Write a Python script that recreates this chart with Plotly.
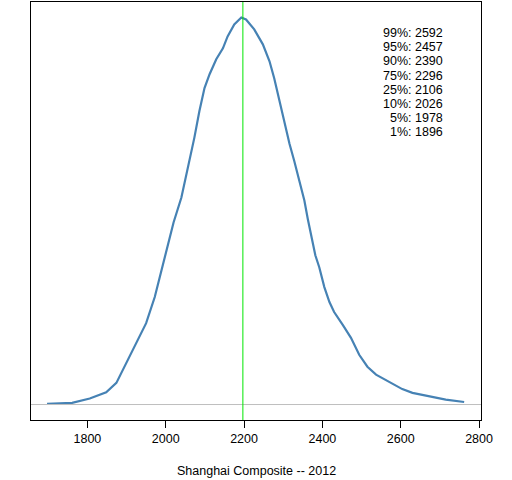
import plotly.graph_objects as go

# kernel density of the 2012 Shanghai Composite
index_level = [1697, 1761, 1806, 1848, 1874, 1899, 1925, 1950, 1972, 1989,
               2005, 2020, 2040, 2061, 2073, 2086, 2099, 2112, 2129, 2146,
               2158, 2175, 2193, 2205, 2226, 2248, 2265, 2277, 2290, 2303,
               2316, 2328, 2341, 2354, 2363, 2374, 2382, 2392, 2405, 2418,
               2430, 2452, 2473, 2494, 2515, 2537, 2571, 2604, 2630, 2673,
               2715, 2762]
density = [0.0000056, 0.0000136, 0.000048, 0.0000984, 0.000174, 0.000334,
           0.000494, 0.000654, 0.000864, 0.00108, 0.001296, 0.001464,
           0.001664, 0.00196, 0.002144, 0.00236, 0.002544, 0.002656,
           0.002776, 0.002864, 0.00296, 0.003056, 0.003112, 0.003096,
           0.003016, 0.002896, 0.00276, 0.002624, 0.00244, 0.002256,
           0.002096, 0.00196, 0.0018, 0.00164, 0.001488, 0.00132, 0.0012,
           0.001104, 0.000944, 0.000824, 0.000744, 0.00064, 0.000536, 0.0004,
           0.000304, 0.00024, 0.00018, 0.000124, 0.0000936, 0.0000664,
           0.00004, 0.00002]

centre = 2197
quantile_names = ["99%", "95%", "90%", "75%", "25%", "10%", "5%", "1%"]
quantile_values = [2592, 2457, 2390, 2296, 2106, 2026, 1978, 1896]

ticks = [1800, 2000, 2200, 2400, 2600, 2800]

font = dict(family="Liberation Sans, Arial, sans-serif", size=12.5, color="black")

fig = go.Figure()
fig.add_trace(go.Scatter(x=index_level, y=density, mode="lines",
                         line=dict(color="#4682B4", width=2.2),
                         hoverinfo="skip", showlegend=False))

# baseline and centre line
fig.add_shape(type="line", xref="paper", yref="y", x0=0, x1=1, y0=0, y1=0,
              line=dict(color="#BEBEBE", width=1))
fig.add_shape(type="line", xref="x", yref="paper", x0=centre, x1=centre,
              y0=0, y1=1, line=dict(color="#00E600", width=1))

for i, (name, val) in enumerate(zip(quantile_names, quantile_values)):
    fig.add_annotation(text=f"{name}: {val}", xref="x", yref="paper",
                       x=2713, y=0.925 - i * 0.03364, xanchor="right",
                       yanchor="middle", showarrow=False, font=font)

# axis title placed like R's xlab
fig.add_annotation(text="Shanghai Composite -- 2012", xref="paper",
                   yref="paper", x=0.5, y=-0.121, xanchor="center",
                   yanchor="middle", showarrow=False, font=font)

ymax = max(density)
fig.update_layout(
    width=512, height=480,
    margin=dict(l=31, r=31, t=2, b=60),
    paper_bgcolor="white", plot_bgcolor="white",
    font=font,
    xaxis=dict(range=[1656, 2805], tickvals=ticks, ticks="outside", ticklen=7,
               tickcolor="black", showgrid=False, zeroline=False,
               showline=True, linecolor="black", linewidth=1, mirror=True,
               automargin=False, tickfont=font),
    yaxis=dict(range=[-0.04 * ymax, 1.04 * ymax], showticklabels=False,
               showgrid=False, zeroline=False, showline=True,
               linecolor="black", linewidth=1, mirror=True, automargin=False),
)

# drop the page's default body margin so the figure sits at the top-left corner
fig.write_html("out.html", config={"displayModeBar": False},
               post_script="document.body.style.margin='0';")
